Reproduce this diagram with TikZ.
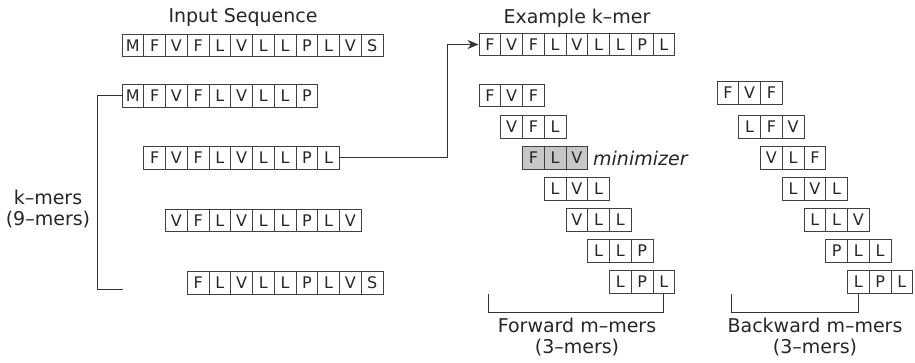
\documentclass[tikz,border=0pt]{standalone}
\usepackage{fontspec}
\setmainfont{DejaVu Sans}
\usetikzlibrary{arrows.meta}
\begin{document}
\begin{tikzpicture}[x=1pt,y=-1pt,
  cell/.style={draw=black!75, line width=1pt, minimum width=21.75pt,
    minimum height=22.5pt, inner sep=0pt,
    font=\fontsize{16}{16}\selectfont, text=black!85},
  hicell/.style={cell, fill=black!22},
  label/.style={font=\fontsize{19}{21}\selectfont, text=black!85,
    align=center, inner sep=0pt},
  wire/.style={draw=black!80, line width=1pt}]
\useasboundingbox (0,0) rectangle (915,363);

% one row of letter cells: [style]{name}{left x}{centre y}{letters}
\newcommand\seqrow[5][cell]{%
  \foreach \c [count=\i] in {#5}
    \node[#1] (#2-\i) at ({#3+10.875+(\i-1)*21.75}, #4) {\c};}

% input sequence and its 9-mers
\node[label] (title) at (243,17) {Input Sequence};
\seqrow{inp}{122}{45.5}{M,F,V,F,L,V,L,L,P,L,V,S}
\seqrow{k1}{122}{96}{M,F,V,F,L,V,L,L,P}
\seqrow{k2}{143.75}{158}{F,V,F,L,V,L,L,P,L}
\seqrow{k3}{165.5}{220.5}{V,F,L,V,L,L,P,L,V}
\seqrow{k4}{187.25}{283}{F,L,V,L,L,P,L,V,S}

\node[label] (klab) at (48,209) {k–mers\\(9–mers)};
\coordinate (kb) at (97,289);
\coordinate (kend) at (123,289);
\draw[wire] (k1-1.west) -| (kb) -- (kend);

% example k-mer
\node[label] (extitle) at (577,18) {Example k–mer};
\seqrow{ex}{479}{44.5}{F,V,F,L,V,L,L,P,L}
\coordinate (turn) at (447,44.5);
\draw[wire,-{Stealth[length=11pt,width=9pt]}] (k2-9.east) -| (turn) -- (ex-1.west);

% forward 3-mers
\seqrow{f1}{479}{95.5}{F,V,F}
\seqrow{f2}{500.75}{127}{V,F,L}
\seqrow[hicell]{f3}{522.5}{158}{F,L,V}
\seqrow{f4}{544.25}{189}{L,V,L}
\seqrow{f5}{566}{220}{V,L,L}
\seqrow{f6}{587.75}{251}{L,L,P}
\seqrow{f7}{609.5}{282}{L,P,L}
\node[label, anchor=west, font=\fontsize{19}{21}\selectfont\itshape] (mini) at (593,158) {minimizer};

\coordinate (ftop) at (488,294);
\coordinate (fbot) at (488,312);
\draw[wire] (ftop) -- (fbot) -| (f7-3.south);
\node[label] (flab) at (577,337) {Forward m–mers\\(3–mers)};

% backward 3-mers
\seqrow{b1}{717}{93}{F,V,F}
\seqrow{b2}{738.75}{127}{L,F,V}
\seqrow{b3}{760.5}{158}{V,L,F}
\seqrow{b4}{782.25}{189}{L,V,L}
\seqrow{b5}{804}{220}{L,L,V}
\seqrow{b6}{825.75}{251}{P,L,L}
\seqrow{b7}{847.5}{282}{L,P,L}

\coordinate (btop) at (731,294);
\coordinate (bbot) at (731,312);
\draw[wire] (btop) -- (bbot) -| (b7-1.south);
\node[label] (blab) at (815,337) {Backward m–mers\\(3–mers)};
\end{tikzpicture}
\end{document}
